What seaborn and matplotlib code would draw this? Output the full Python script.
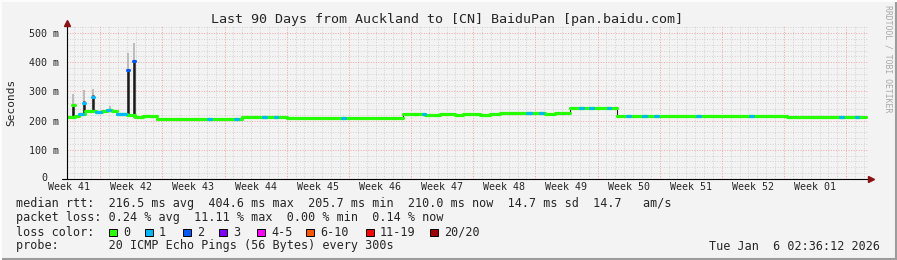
import numpy as np
import pandas as pd
import matplotlib
matplotlib.use("Agg")
import matplotlib.pyplot as plt
import seaborn as sns
from matplotlib.patches import Rectangle
from matplotlib.lines import Line2D

# ---------------- data ----------------
title = "Last 90 Days from Auckland to [CN] BaiduPan [pan.baidu.com]"
week_labels = ["Week 41", "Week 42", "Week 43", "Week 44", "Week 45", "Week 46", "Week 47",
               "Week 48", "Week 49", "Week 50", "Week 51", "Week 52", "Week 01"]
first_week_start = 3.74          # day of first week boundary
total_days = 90.0

# median rtt (ms): step segments, start day and value
seg_start = [0.0, 0.9, 1.35, 2.03, 3.27, 3.94, 4.5, 5.07, 5.63, 6.76, 7.66, 8.33, 8.56,
             10.14, 19.71, 24.78, 26.81, 37.85, 39.2, 40.32, 42.01, 43.7, 44.6, 45.39,
             46.52, 47.65, 48.77, 52.94, 53.84, 54.97, 56.66, 61.95, 81.1]
seg_median = [213, 216, 222, 232, 230, 233, 238, 232, 222, 219, 214, 211, 217,
              206, 213, 210, 209, 222, 224, 221, 223, 220, 223, 222,
              220, 222, 227, 225, 222, 225, 244, 217, 213]

# smoke spikes (ms)
spike_day = [0.73, 1.91, 2.93, 4.84, 6.87, 7.55]
spike_low = [212, 222, 228, 232, 218, 214]
spike_dense = [258, 266, 287, 236, 378, 408]
spike_light = [290, 305, 308, 250, 432, 465]
spike_med = [255, 262, 282, 236, 375, 405]
spike_loss = [0, 1, 1, 0, 2, 2]

# packet-loss marks on the median line (day, length in days, loss class)
blip_day = [1.35, 3.27, 4.5, 5.63, 15.9, 18.9, 22.1, 23.4, 31.0, 40.1, 51.8, 53.3,
            57.8, 58.9, 60.9, 63.1, 64.9, 66.2, 71.0, 76.9, 87.1, 88.8]
blip_len = [0.45, 0.6, 0.35, 1.0, 0.3, 0.3, 0.3, 0.3, 0.3, 0.3, 0.4, 0.3,
            0.3, 0.3, 0.3, 0.3, 0.3, 0.3, 0.3, 0.3, 0.3, 0.3]
blip_loss = [1] * 22

y_ticks = [0, 100, 200, 300, 400, 500]
y_tick_labels = ["0", "100 m", "200 m", "300 m", "400 m", "500 m"]

loss_labels = ["0", "1", "2", "3", "4-5", "6-10", "11-19", "20/20"]
loss_colors = ["#26FF00", "#00B8FF", "#0059FF", "#7E00FF", "#FF00FF", "#FF5500", "#FF0000", "#A10000"]

row_median = "median rtt:  216.5 ms avg  404.6 ms max  205.7 ms min  210.0 ms now  14.7 ms sd  14.7   am/s"
row_loss = "packet loss: 0.24 % avg  11.11 % max  0.00 % min  0.14 % now"
row_color = "loss color:"
row_probe = "probe:       20 ICMP Echo Pings (56 Bytes) every 300s"
stamp = "Tue Jan  6 02:36:12 2026"
watermark = "RRDTOOL / TOBI OETIKER"

# ---------------- style ----------------
sns.set_style("white")
MONO = ["DejaVu Sans Mono"]
plt.rcParams["font.family"] = MONO

BG = "#F3F3F3"
GRID = "#D2D2D2"
MGRID = "#EFA3A3"
ARROW = "#8B1010"

W, H = 897, 260
fig = plt.figure(figsize=(W / 100, H / 100), dpi=100, facecolor=BG)


def fx(px):
    return px / W


def fy(py):
    return 1 - py / H


PX_PER_MS = 0.2917
YMAX = (179 - 26) / PX_PER_MS
XMAX = 90.2

ax = fig.add_axes([fx(67), fy(179), (868 - 67) / W, (179 - 26) / H])
ax.set_facecolor(BG)
for s in ax.spines.values():
    s.set_visible(False)

# grid
day_lines = np.arange(first_week_start - 3, XMAX, 1.0)
week_lines = np.arange(first_week_start, XMAX, 7.0)
minor_days = [d for d in day_lines if min(abs(d - week_lines)) > 0.01]
ax.vlines(minor_days, 0, YMAX, colors=GRID, lw=0.7, linestyles=(0, (1, 1.6)), zorder=0)
ax.vlines(week_lines, 0, YMAX, colors=MGRID, lw=0.7, linestyles=(0, (1, 1.6)), zorder=0.5)
minor_y = [v for v in range(20, int(YMAX) + 1, 20) if v % 100 != 0]
ax.hlines(minor_y, 0, XMAX, colors=GRID, lw=0.7, linestyles=(0, (1, 1.6)), zorder=0)
ax.hlines(y_ticks[1:], 0, XMAX, colors=MGRID, lw=0.7, linestyles=(0, (1, 1.6)), zorder=0.5)

# smoke spikes
ax.vlines(spike_day, spike_low, spike_light, colors="#B8B8B8", lw=1.3, zorder=2)
ax.vlines(spike_day, spike_low, spike_dense, colors="#1A1A1A", lw=1.8, zorder=3)

# transitions (thin smoke)
seg_end = seg_start[1:] + [total_days]
for i in range(1, len(seg_start)):
    a, b = seg_median[i - 1], seg_median[i]
    if abs(a - b) >= 5:
        ax.vlines(seg_start[i], min(a, b), max(a, b), colors="#222222", lw=0.8, zorder=3)

# median line
rows = []
for i, (s0, s1, v) in enumerate(zip(seg_start, seg_end, seg_median)):
    rows.append({"day": s0, "rtt": v, "seg": i})
    rows.append({"day": s1, "rtt": v, "seg": i})
df_med = pd.DataFrame(rows)
sns.lineplot(data=df_med, x="day", y="rtt", units="seg", estimator=None,
             color=loss_colors[0], lw=2.3, ax=ax, legend=False, zorder=4)

# loss marks on the median
seg_arr = np.array(seg_start)
brows = []
for j, (d, l, c) in enumerate(zip(blip_day, blip_len, blip_loss)):
    idx = np.searchsorted(seg_arr, d + 1e-6, side="right") - 1
    v = seg_median[idx]
    brows.append({"day": d, "rtt": v, "k": j, "loss": c})
    brows.append({"day": min(d + l, seg_end[idx]), "rtt": v, "k": j, "loss": c})
for j, (d, v, c) in enumerate(zip(spike_day, spike_med, spike_loss)):
    brows.append({"day": d - 0.12, "rtt": v, "k": 100 + j, "loss": c})
    brows.append({"day": d + 0.12, "rtt": v, "k": 100 + j, "loss": c})
df_b = pd.DataFrame(brows)
for c in sorted(df_b["loss"].unique()):
    sub = df_b[df_b["loss"] == c]
    sns.lineplot(data=sub, x="day", y="rtt", units="k", estimator=None,
                 color=loss_colors[c], lw=2.3, ax=ax, legend=False, zorder=5)

ax.set_xlim(0, XMAX)
ax.set_ylim(0, YMAX)
ax.set_xlabel("")
ax.set_ylabel("")

# axes lines with arrows
ax.plot([0, 0], [0, YMAX + 7], color="black", lw=0.8, clip_on=False, zorder=6)
ax.plot([0], [YMAX + 9], marker="^", color=ARROW, ms=5, clip_on=False, zorder=7)
ax.plot([-0.55, 90.4], [0, 0], color="black", lw=0.8, clip_on=False, zorder=6)
ax.plot([90.5], [0], marker=">", color=ARROW, ms=5, clip_on=False, zorder=7)

# ticks (the "0" label is placed separately, aligned with the digits of the others)
ax.set_yticks(y_ticks)
ax.set_yticklabels([""] + y_tick_labels[1:])
ax.annotate(y_tick_labels[0], xy=(0, y_ticks[0]), xycoords=("axes fraction", "data"),
            xytext=(-20, 1), textcoords="offset pixels", ha="right", va="center",
            fontsize=7.2, family=MONO)
ax.set_yticks(minor_y, minor=True)
ax.tick_params(axis="y", which="major", length=3, width=0.8, pad=2.5, labelsize=7.2, direction="out")
ax.tick_params(axis="y", which="minor", length=2, width=0.6, direction="in")
centers = [first_week_start - 3.5 + 7 * k for k in range(len(week_labels))]
ax.set_xticks(week_lines)
ax.set_xticklabels([""] * len(week_lines))
ax.set_xticks(centers, minor=True)
ax.set_xticklabels(week_labels, minor=True)
ax.tick_params(axis="x", which="major", length=3, width=0.8, direction="inout")
ax.tick_params(axis="x", which="minor", length=0, pad=2.5, labelsize=7.2)
for lab in ax.get_xticklabels(minor=True) + ax.get_yticklabels():
    lab.set_fontfamily(MONO)

# texts
fig.text(fx(447), fy(19), title, ha="center", va="center", fontsize=9.6, family=MONO)
fig.text(fx(11), fy(102), "Seconds", rotation=90, ha="center", va="center", fontsize=8, family=MONO)
fig.text(fx(888), fy(5), watermark, rotation=270, ha="center", va="top", fontsize=5.9,
         color="#A8A8A8", family=MONO)

LEG = 8.5
fig.text(fx(16), fy(204), row_median, ha="left", va="center", fontsize=LEG, family=MONO)
fig.text(fx(16), fy(218), row_loss, ha="left", va="center", fontsize=LEG, family=MONO)
fig.text(fx(16), fy(232), row_color, ha="left", va="center", fontsize=LEG, family=MONO)
fig.text(fx(16), fy(246), row_probe, ha="left", va="center", fontsize=LEG, family=MONO)
fig.text(fx(880), fy(246), stamp, ha="right", va="center", fontsize=LEG, family=MONO)

box_x = [109, 145, 183, 219, 257, 306, 366, 430]
for bx, lab, col in zip(box_x, loss_labels, loss_colors):
    fig.add_artist(Rectangle((fx(bx), fy(236)), 7.5 / W, 7.5 / H, transform=fig.transFigure,
                             facecolor=col, edgecolor="black", lw=0.7))
    fig.text(fx(bx + 14), fy(232), lab, ha="left", va="center", fontsize=LEG, family=MONO)

# 3D frame
fig.add_artist(Line2D([0, 1], [fy(259), fy(259)], transform=fig.transFigure, color="#9C9C9C", lw=1.5))
fig.add_artist(Line2D([fx(896), fx(896)], [0, 1], transform=fig.transFigure, color="#9C9C9C", lw=1.5))
fig.add_artist(Line2D([0, 1], [fy(0.5), fy(0.5)], transform=fig.transFigure, color="#FCFCFC", lw=1.5))
fig.add_artist(Line2D([fx(0.5), fx(0.5)], [0, 1], transform=fig.transFigure, color="#FCFCFC", lw=1.5))

fig.savefig("out.png", dpi=100, facecolor=BG)
